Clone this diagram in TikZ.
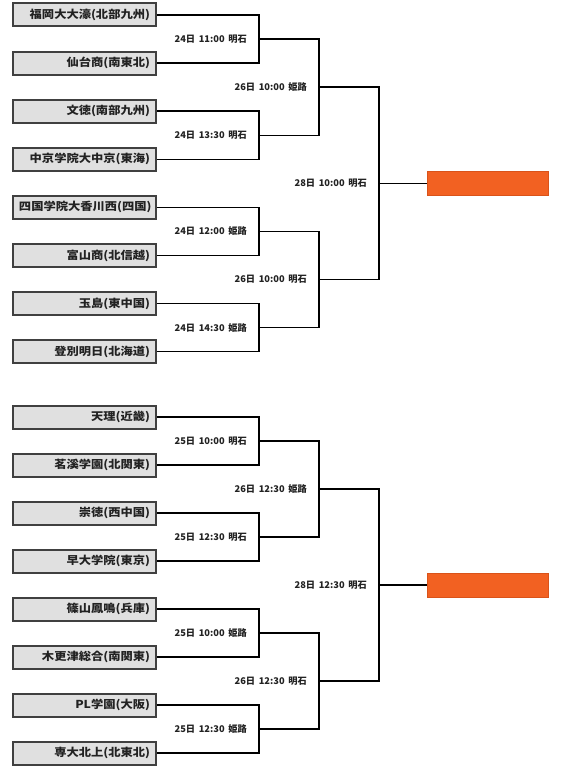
\documentclass[tikz,border=0pt]{standalone}
\usepackage{fontspec}
\setmainfont{Noto Sans CJK JP}
\newfontfamily\teamfont{Noto Sans CJK JP}[FakeStretch=1.12]
\newfontfamily\datefont{Noto Sans CJK JP}[WordSpace=1.7]
\usepackage{tikz}
\usetikzlibrary{calc}
\definecolor{INK}{HTML}{222222}
\definecolor{BOXLINE}{HTML}{404040}
\definecolor{BOXFILL}{HTML}{E0E0E0}
\definecolor{ORANGE}{HTML}{F26122}
\definecolor{ORLINE}{HTML}{D9531A}
\begin{document}
\begin{tikzpicture}[x=1bp,y=-1bp]
\tikzset{team/.style={draw=BOXLINE,line width=2bp,fill=BOXFILL,minimum height=23bp,inner xsep=6bp,inner ysep=0pt,
  text width=131bp,align=right,font=\teamfont\fontsize{11}{11}\selectfont\bfseries,text=INK},
 lnk/.style={line width=1.5bp,black},
 when/.style={anchor=east,inner sep=0pt,font=\datefont\fontsize{9.3}{9.5}\selectfont\bfseries,text=INK},
 champ/.style={draw=ORLINE,fill=ORANGE,line width=0.6bp,minimum width=121bp,minimum height=24bp,inner sep=0pt}}
\useasboundingbox (0,0) rectangle (570,767);
% teams, top block then bottom block
\foreach \name [count=\i] in {福岡大大濠(北部九州),仙台商(南東北),文徳(南部九州),中京学院大中京(東海),
  四国学院大香川西(四国),富山商(北信越),玉島(東中国),登別明日(北海道)}
  \node[team] (t\i) at (84.5,{15+48.1*(\i-1)}) {\name};
\foreach \name [count=\i from 9] in {天理(近畿),茗溪学園(北関東),崇徳(西中国),早大学院(東京),
  篠山鳳鳴(兵庫),木更津総合(南関東),PL学園(大阪),専大北上(北東北)}
  \node[team] (t\i) at (84.5,{417+48*(\i-9)}) {\name};
% first round
\foreach \m in {1,...,8}{
  \pgfmathtruncatemacro\a{2*\m-1}\pgfmathtruncatemacro\b{2*\m}
  \coordinate (r\m) at ($(t\a.east)!0.5!(t\b.east)+(102,0)$);
  \draw[lnk] (t\a.east) -| (r\m) |- (t\b.east);}
% second round
\foreach \m in {1,...,4}{
  \pgfmathtruncatemacro\a{2*\m-1}\pgfmathtruncatemacro\b{2*\m}
  \coordinate (q\m) at ($(r\a)!0.5!(r\b)+(60,0)$);
  \draw[lnk] (r\a) -| (q\m) |- (r\b);}
% semifinals
\foreach \m in {1,2}{
  \pgfmathtruncatemacro\a{2*\m-1}\pgfmathtruncatemacro\b{2*\m}
  \coordinate (s\m) at ($(q\a)!0.5!(q\b)+(60,0)$);
  \draw[lnk] (q\a) -| (s\m) |- (q\b);
  \node[champ,anchor=west] (w\m) at ($(s\m)+(48,0)$) {};
  \draw[lnk] (s\m) -- (w\m.west);}
% dates and venues
\foreach \m/\txt in {1/24日 11:00 明石,2/24日 13:30 明石,3/24日 12:00 姫路,4/24日 14:30 姫路,
  5/25日 10:00 明石,6/25日 12:30 明石,7/25日 10:00 姫路,8/25日 12:30 姫路}
  \node[when] (d\m) at ($(r\m)+(-12,0)$) {\txt};
\foreach \m/\txt in {1/26日 10:00 姫路,2/26日 10:00 明石,3/26日 12:30 姫路,4/26日 12:30 明石}
  \node[when] (e\m) at ($(q\m)+(-12,0)$) {\txt};
\foreach \m/\txt in {1/28日 10:00 明石,2/28日 12:30 明石}
  \node[when] (f\m) at ($(s\m)+(-12,0)$) {\txt};
\end{tikzpicture}
\end{document}
